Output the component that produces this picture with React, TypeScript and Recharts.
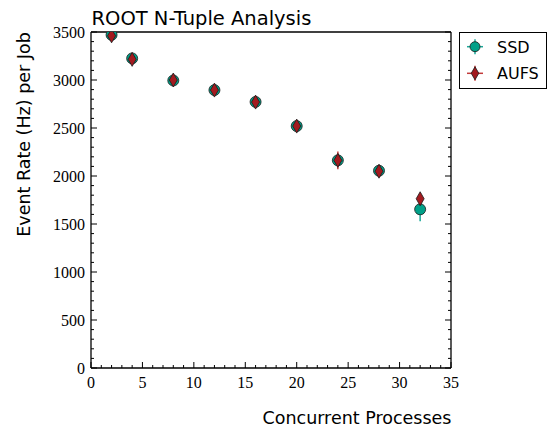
import React from 'react';
import { ScatterChart, Scatter, XAxis, YAxis, ErrorBar, Legend } from 'recharts';

const processes = [2, 4, 8, 12, 16, 20, 24, 28, 32];
const ssdRate = [3470, 3225, 2995, 2895, 2772, 2520, 2163, 2055, 1653];
const ssdErr = [25, 25, 25, 25, 25, 25, 40, 25, 125];
const aufsRate = [3460, 3215, 3000, 2895, 2770, 2520, 2163, 2050, 1763];
const aufsErr = [30, 30, 30, 30, 30, 30, 92, 30, 55];

const xMajorTicks = [0, 5, 10, 15, 20, 25, 30, 35];
const yMajorTicks = [0, 500, 1000, 1500, 2000, 2500, 3000, 3500];
const X_MINOR_STEP = 1;
const Y_MINOR_STEP = 100;
const xAllTicks = Array.from({ length: 36 }, (_, i) => i * X_MINOR_STEP);
const yAllTicks = Array.from({ length: 36 }, (_, i) => i * Y_MINOR_STEP);

const ssdData = processes.map((x, i) => ({ x, y: ssdRate[i], err: ssdErr[i] }));
const aufsData = processes.map((x, i) => ({ x, y: aufsRate[i], err: aufsErr[i] }));

const SANS = "'DejaVu Sans', sans-serif";
const SERIF = "'Liberation Serif', 'DejaVu Serif', serif";
const SSD_FILL = '#00a088';
const SSD_BAR = '#1aa898';
const AUFS_FILL = '#a31a1f';
const AUFS_BAR = '#c23a3a';
const EDGE = '#1a1a1a';
const AXIS_W = 1.3;

const MAJ = 6;
const MIN = 3;

const serifStyle = { fontFamily: SERIF, fontSize: 16 };

const BottomTick = (p: any) => {
  const { x, y, payload } = p;
  const major = xMajorTicks.includes(payload.value);
  return (
    <g>
      <line x1={x} x2={x} y1={y} y2={y - (major ? MAJ : MIN)} stroke="#000" strokeWidth={1} />
      {major && (
        <text x={x} y={y + 20} textAnchor="middle" style={serifStyle} fill="#000">
          {payload.value}
        </text>
      )}
    </g>
  );
};

const TopTick = (p: any) => {
  const { x, y, payload } = p;
  const major = xMajorTicks.includes(payload.value);
  return <line x1={x} x2={x} y1={y} y2={y + (major ? MAJ : MIN)} stroke="#000" strokeWidth={1} />;
};

const LeftTick = (p: any) => {
  const { x, y, payload } = p;
  const major = yMajorTicks.includes(payload.value);
  return (
    <g>
      <line x1={x} x2={x + (major ? MAJ : MIN)} y1={y} y2={y} stroke="#000" strokeWidth={1} />
      {major && (
        <text x={x - 6} y={y + 5.5} textAnchor="end" style={serifStyle} fill="#000">
          {payload.value}
        </text>
      )}
    </g>
  );
};

const RightTick = (p: any) => {
  const { x, y, payload } = p;
  const major = yMajorTicks.includes(payload.value);
  return <line x1={x} x2={x - (major ? MAJ : MIN)} y1={y} y2={y} stroke="#000" strokeWidth={1} />;
};

const Circle = (p: any) => (
  <circle cx={p.cx} cy={p.cy} r={5.5} fill={SSD_FILL} stroke={EDGE} strokeWidth={0.8} />
);

const Diamond = (p: any) => {
  const { cx, cy } = p;
  const w = 4;
  const h = 7;
  return (
    <polygon
      points={`${cx},${cy - h} ${cx + w},${cy} ${cx},${cy + h} ${cx - w},${cy}`}
      fill={AUFS_FILL}
      stroke={EDGE}
      strokeWidth={0.8}
    />
  );
};

const series = [
  { name: 'SSD', bar: SSD_BAR, kind: 'circle' },
  { name: 'AUFS', bar: AUFS_BAR, kind: 'diamond' },
];

const LegendBox = () => (
  <div style={{ width: 88, height: 57, border: '1px solid #000', boxSizing: 'border-box', background: '#fff' }}>
    <svg width={88} height={57} style={{ display: 'block', overflow: 'visible' }}>
      {series.map((s, i) => {
        const cy = 14.7 + i * 26.6 - 1;
        const cx = 15;
        return (
          <g key={s.name}>
            <line x1={cx - 8} x2={cx + 8} y1={cy} y2={cy} stroke={s.bar} strokeWidth={1.5} />
            <line x1={cx} x2={cx} y1={cy - 7.5} y2={cy + 7.5} stroke={s.bar} strokeWidth={1.5} />
            {s.kind === 'circle' ? (
              <circle cx={cx} cy={cy} r={5} fill={SSD_FILL} stroke={EDGE} strokeWidth={0.8} />
            ) : (
              <polygon
                points={`${cx},${cy - 6.5} ${cx + 3.8},${cy} ${cx},${cy + 6.5} ${cx - 3.8},${cy}`}
                fill={AUFS_FILL}
                stroke={EDGE}
                strokeWidth={0.8}
              />
            )}
            <text x={37} y={cy + 6} style={{ fontFamily: SANS, fontSize: 16 }} fill="#000">
              {s.name}
            </text>
          </g>
        );
      })}
    </svg>
  </div>
);

export default function App() {
  return (
    <div style={{ position: 'absolute', left: 0, top: 0, width: 548, height: 428, background: '#fff' }}>
      <ScatterChart width={548} height={428} margin={{ top: 31, right: 96, bottom: 59, left: 90 }}>
        <XAxis
          xAxisId="b"
          type="number"
          dataKey="x"
          domain={[0, 35]}
          ticks={xAllTicks}
          interval={0}
          allowDataOverflow
          height={1}
          tickSize={0}
          tickMargin={0}
          axisLine={{ stroke: '#000', strokeWidth: AXIS_W }}
          tickLine={false}
          tick={<BottomTick />}
        />
        <XAxis
          xAxisId="t"
          orientation="top"
          type="number"
          domain={[0, 35]}
          ticks={xAllTicks}
          interval={0}
          allowDataOverflow
          height={1}
          tickSize={0}
          tickMargin={0}
          axisLine={{ stroke: '#000', strokeWidth: AXIS_W }}
          tickLine={false}
          tick={<TopTick />}
        />
        <YAxis
          yAxisId="l"
          type="number"
          dataKey="y"
          domain={[0, 3500]}
          ticks={yAllTicks}
          interval={0}
          allowDataOverflow
          width={1}
          tickSize={0}
          tickMargin={0}
          axisLine={{ stroke: '#000', strokeWidth: AXIS_W }}
          tickLine={false}
          tick={<LeftTick />}
        />
        <YAxis
          yAxisId="r"
          orientation="right"
          type="number"
          domain={[0, 3500]}
          ticks={yAllTicks}
          interval={0}
          allowDataOverflow
          width={1}
          tickSize={0}
          tickMargin={0}
          axisLine={{ stroke: '#000', strokeWidth: AXIS_W }}
          tickLine={false}
          tick={<RightTick />}
        />
        <Scatter name="SSD" data={ssdData} xAxisId="b" yAxisId="l" shape={<Circle />} isAnimationActive={false}>
          <ErrorBar dataKey="err" direction="y" width={0} stroke={SSD_BAR} strokeWidth={1.5} />
        </Scatter>
        <Scatter name="AUFS" data={aufsData} xAxisId="b" yAxisId="l" shape={<Diamond />} isAnimationActive={false}>
          <ErrorBar dataKey="err" direction="y" width={0} stroke={AUFS_BAR} strokeWidth={1.5} />
        </Scatter>
        <Legend
          layout="vertical"
          align="center"
          verticalAlign="middle"
          content={() => <LegendBox />}
          wrapperStyle={{ position: 'absolute', left: 459, top: 32, width: 88, height: 57 }}
        />
        <text x={91.5} y={25} style={{ fontFamily: SANS, fontSize: 19.5 }} fill="#000">
          ROOT N-Tuple Analysis
        </text>
        <text
          x={30}
          y={134.5}
          transform="rotate(-90, 30, 134.5)"
          textAnchor="middle"
          style={{ fontFamily: SANS, fontSize: 17.5 }}
          fill="#000"
        >
          Event Rate (Hz) per Job
        </text>
        <text x={357} y={424} textAnchor="middle" style={{ fontFamily: SANS, fontSize: 17.5 }} fill="#000">
          Concurrent Processes
        </text>
      </ScatterChart>
    </div>
  );
}
